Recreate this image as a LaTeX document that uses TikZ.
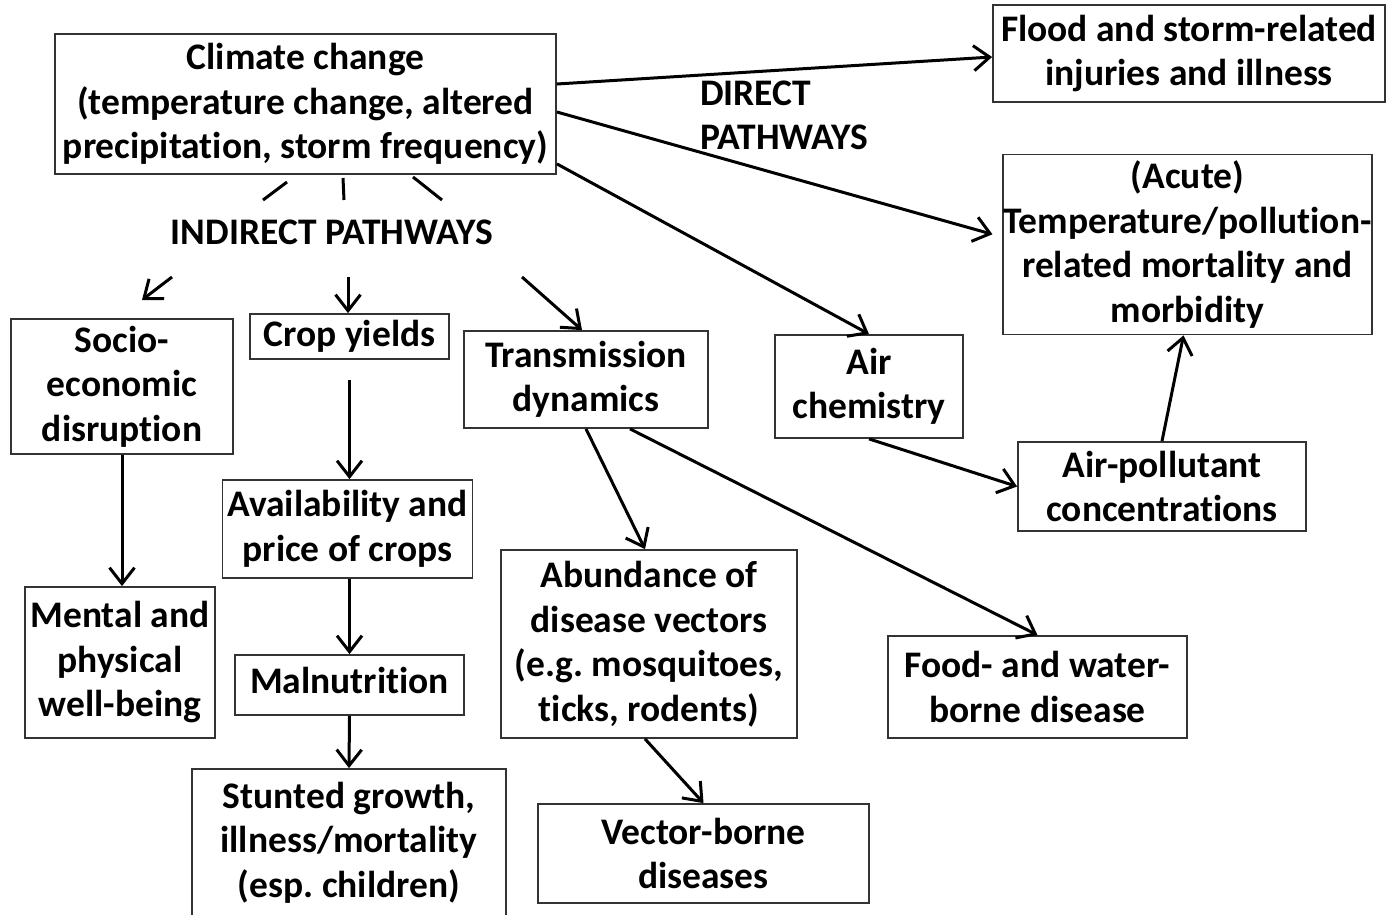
\documentclass[tikz,border=0pt]{standalone}
\usepackage{fontspec}
\setmainfont{Carlito}[Ligatures=NoCommon]
\usepackage{tikz}
\usetikzlibrary{arrows.meta}
\frenchspacing
\tikzset{
	box/.style={
		draw=black!80, line width=1.8pt, rectangle,
		inner sep=0pt, align=center, text=black,
		font=\fontsize{37.5}{44.5}\selectfont\bfseries
	},
	lbl/.style={
		inner sep=0pt, text=black,
		font=\fontsize{37.5}{44.5}\selectfont\bfseries
	},
	arr/.style={-{Straight Barb[length=16pt,width=25pt]}, line width=3pt},
	seg/.style={line width=3pt}
}

\begin{document}
\begin{tikzpicture}[x=1pt,y=-1pt]
  \useasboundingbox (0,0) rectangle (1387,914);
  \node[box,minimum width=501pt,minimum height=140pt] (clim) at (305.5,104)
    {Climate change\\(temperature change, altered\\precipitation, storm frequency)};
  \node[box,minimum width=392pt,minimum height=97pt] (flood) at (1189,53.5)
    {Flood and storm-related\\injuries and illness};
  \node[box,minimum width=369pt,minimum height=180pt] (acute) at (1187.5,244.5)
    {(Acute)\\Temperature/pollution-\\related mortality and\\morbidity};
  \node[box,minimum width=222pt,minimum height=135pt] (socio) at (122,386.5)
    {Socio-\\economic\\disruption};
  \node[box,minimum width=199pt,minimum height=45pt] (crop) at (349.5,336.5) {Crop yields};
  \node[box,minimum width=244pt,minimum height=97pt] (trans) at (586,379.5)
    {Transmission\\dynamics};
  \node[box,minimum width=188pt,minimum height=103pt] (airchem) at (869,386.5)
    {Air\\chemistry};
  \node[box,minimum width=288pt,minimum height=89pt] (airpol) at (1162,486.5)
    {Air-pollutant\\concentrations};
  \node[box,minimum width=250pt,minimum height=98pt] (avail) at (347.5,529)
    {Availability and\\price of crops};
  \node[box,minimum width=190pt,minimum height=151pt] (mental) at (120,662.5)
    {Mental and\\physical\\well-being};
  \node[box,minimum width=229pt,minimum height=60pt,text depth=10pt] (malnut) at (349.5,685) {Malnutrition};
  \node[box,minimum width=296pt,minimum height=188pt] (abund) at (649,644)
    {Abundance of\\disease vectors\\(e.g. mosquitoes,\\ticks, rodents)};
  \node[box,minimum width=299pt,minimum height=102pt] (food) at (1037.5,687)
    {Food- and water-\\borne disease};
  \node[box,minimum width=314pt,minimum height=147pt] (stunted) at (349,842.5)
    {Stunted growth,\\illness/mortality\\(esp. children)};
  \node[box,minimum width=331pt,minimum height=99pt] (vector) at (703.5,853.5)
    {Vector-borne\\diseases};
  \node[lbl] (indirect) at (332,232) {INDIRECT PATHWAYS};
  \node[lbl,anchor=west,align=left] (direct) at (700,115.5) {DIRECT\\PATHWAYS};

  \coordinate (s1) at (287,182); \coordinate (e1) at (263,200);
  \coordinate (s2) at (343,178); \coordinate (e2) at (344,200);
  \coordinate (s3) at (413,177); \coordinate (e3) at (442,200);
  \coordinate (s4) at (172,277); \coordinate (e4) at (142,300);
  \coordinate (s5) at (348,277);
  \coordinate (s6) at (522,277);

  \draw[seg] (s1) -- (e1);
  \draw[seg] (s2) -- (e2);
  \draw[seg] (s3) -- (e3);
  \draw[arr] (s4) -- (e4);
  \draw[arr] (s5) -- (s5 |- crop.north);
  \draw[arr] (s6) -- ([xshift=-4pt]trans.north);

  \draw[arr] ([yshift=20pt]clim.east) -- ([yshift=-3.5pt]flood.west);
  \draw[arr,shorten >=10pt] ([yshift=-8pt]clim.east) -- ([yshift=7.5pt]acute.west);
  \draw[arr] ([yshift=11pt]clim.south east) -- (airchem.north);
  \draw[arr] (socio.south) -- (socio.south |- mental.north);
  \draw[arr,shorten <=20pt] (crop.south) -- (crop.south |- avail.north);
  \draw[arr] (malnut.north |- avail.south) -- (malnut.north);
  \draw[arr] (malnut.south) -- (stunted.north);
  \draw[arr] (trans.south) -- ([xshift=-4pt]abund.north);
  \draw[arr] ([xshift=44pt]trans.south) -- (food.north);
  \draw[arr] ([xshift=-4pt]abund.south) -- (vector.north);
  \draw[arr] (airchem.south) -- (airpol.west);
  \draw[arr] (airpol.north) -- ([xshift=-4pt]acute.south);
\end{tikzpicture}
\end{document}
